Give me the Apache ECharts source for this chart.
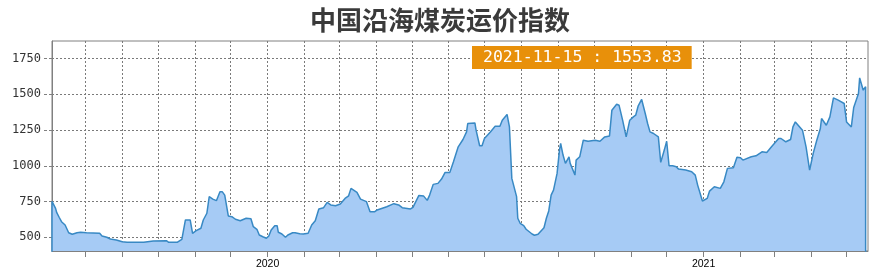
<!DOCTYPE html>
<html><head><meta charset="utf-8">
<script src="https://cdn.jsdelivr.net/npm/echarts@6/dist/echarts.min.js"></script>
<style>html,body{margin:0;padding:0;background:#fff}#c{width:880px;height:278px}</style>
</head><body><div id="c"></div>
<script>
const titleText = '中国沿海煤炭运价指数';
const latestDate = '2021-11-15';
const latestValue = '1553.83';

const dates = [
'2019-07-04','2019-07-04','2019-07-07','2019-07-08','2019-07-10','2019-07-12','2019-07-15','2019-07-18','2019-07-21','2019-07-25','2019-07-28',
'2019-08-02','2019-08-13','2019-08-15','2019-08-19','2019-08-22','2019-08-27','2019-09-01','2019-09-05','2019-09-19','2019-09-27',
'2019-10-08','2019-10-10','2019-10-17','2019-10-21','2019-10-24','2019-10-28','2019-10-30','2019-11-02','2019-11-06','2019-11-08',
'2019-11-11','2019-11-13','2019-11-16','2019-11-19','2019-11-22','2019-11-24','2019-11-26','2019-11-29','2019-12-02','2019-12-05',
'2019-12-09','2019-12-14','2019-12-18','2019-12-20','2019-12-23','2019-12-25','2019-12-28','2019-12-31','2020-01-02','2020-01-04',
'2020-01-07','2020-01-09','2020-01-10','2020-01-13','2020-01-16','2020-01-18','2020-01-22','2020-01-24','2020-01-28','2020-01-31',
'2020-02-04','2020-02-07','2020-02-10','2020-02-13','2020-02-17','2020-02-20','2020-02-23','2020-02-27','2020-03-02','2020-03-06',
'2020-03-09','2020-03-11','2020-03-16','2020-03-19','2020-03-24','2020-03-27','2020-03-31','2020-04-02','2020-04-10','2020-04-16',
'2020-04-20','2020-04-23','2020-04-30','2020-05-02','2020-05-07','2020-05-11','2020-05-14','2020-05-16','2020-05-19','2020-05-23',
'2020-05-26','2020-05-29','2020-06-02','2020-06-05','2020-06-09','2020-06-13','2020-06-16','2020-06-17','2020-06-23','2020-06-24',
'2020-06-27','2020-06-29','2020-07-01','2020-07-06','2020-07-10','2020-07-14','2020-07-16','2020-07-20','2020-07-21','2020-07-22',
'2020-07-24','2020-07-28','2020-07-29','2020-07-31','2020-08-03','2020-08-05','2020-08-10','2020-08-12','2020-08-15','2020-08-20',
'2020-08-22','2020-08-24','2020-08-26','2020-08-28','2020-08-31','2020-09-02','2020-09-03','2020-09-05','2020-09-07','2020-09-10',
'2020-09-11','2020-09-15','2020-09-16','2020-09-19','2020-09-22','2020-09-26','2020-10-02','2020-10-06','2020-10-10','2020-10-14',
'2020-10-16','2020-10-20','2020-10-22','2020-10-25','2020-10-28','2020-10-31','2020-11-03','2020-11-05','2020-11-07','2020-11-10',
'2020-11-13','2020-11-15','2020-11-17','2020-11-20','2020-11-24','2020-11-26','2020-11-29','2020-12-01','2020-12-03','2020-12-06',
'2020-12-09','2020-12-11','2020-12-17','2020-12-22','2020-12-25','2020-12-27','2020-12-31','2021-01-04','2021-01-06','2021-01-10',
'2021-01-15','2021-01-18','2021-01-21','2021-01-26','2021-01-29','2021-02-01','2021-02-03','2021-02-10','2021-02-14','2021-02-19',
'2021-02-23','2021-02-27','2021-03-05','2021-03-07','2021-03-11','2021-03-15','2021-03-17','2021-03-19','2021-03-25','2021-03-28',
'2021-03-31','2021-04-03','2021-04-06','2021-04-09','2021-04-10','2021-04-14','2021-04-17','2021-04-20','2021-04-24','2021-04-29',
'2021-05-01','2021-05-05','2021-05-07','2021-05-11','2021-05-12','2021-05-15','2021-05-17','2021-05-17'
];
const values = [
0,751,702,672,640,609,586,532,521,532,535,
532,528,509,500,488,481,469,465,465,474,
476,465,465,486,621,621,528,546,563,621,
668,784,767,756,818,818,795,649,644,626,
616,633,630,574,556,516,504,493,509,551,
581,581,535,523,500,516,532,532,525,523,
528,586,616,698,707,744,726,721,733,772,
790,842,814,767,749,679,679,691,714,735,
726,707,698,709,793,788,758,795,870,877,
907,954,954,1028,1133,1184,1237,1296,1300,1249,
1140,1140,1191,1237,1277,1277,1319,1359,1354,1272,
912,784,633,598,581,556,523,514,521,567,
633,684,795,830,947,1110,1156,1075,1017,1063,
1017,935,1040,1063,1179,1172,1179,1172,1202,1209,
1389,1431,1424,1319,1202,1319,1342,1354,1417,1464,
1366,1296,1237,1226,1202,1024,1110,1172,1000,1000,
993,977,970,958,935,865,754,772,823,853,
842,888,982,986,1059,1056,1040,1063,1070,1098,
1093,1133,1191,1191,1168,1184,1272,1307,1249,1133,
970,1087,1179,1261,1331,1284,1342,1475,1459,1436,
1307,1272,1408,1506,1615,1529,1553.83,0
];
const yTicks = [500, 750, 1000, 1250, 1500, 1750];
const monthTicks = [
'2019-08-01','2019-09-01','2019-10-01','2019-11-01','2019-12-01','2020-01-01','2020-02-01','2020-03-01',
'2020-04-01','2020-05-01','2020-06-01','2020-07-01','2020-08-01','2020-09-01','2020-10-01','2020-11-01',
'2020-12-01','2021-01-01','2021-02-01','2021-03-01','2021-04-01','2021-05-01'
];
const yearLabels = ['2020-01-01', '2021-01-01'];
const xRange = ['2019-07-04', '2021-05-19'];
const yRange = [404, 1873];

const toTs = s => { const p = s.split('-').map(Number); return Date.UTC(p[0], p[1] - 1, p[2]); };
const seriesData = dates.map((d, i) => [toTs(d), values[i]]);
const gridLine = { show: true, lineStyle: { color: '#7a7a7a', type: [2, 2], width: 1 } };

const chart = echarts.init(document.getElementById('c'), null, { renderer: 'canvas' });
chart.setOption({
  animation: false,
  title: [
    { text: titleText, left: 'center', top: 2,
      textStyle: { fontFamily: 'Noto Sans CJK SC', fontSize: 26, fontWeight: 'bold', color: '#3a3a3a' } },
    { text: latestDate + ' : ' + latestValue, left: 472, top: 46, backgroundColor: '#E8900A', padding: [3, 10, 3, 11],
      textStyle: { color: '#ffffff', fontFamily: 'DejaVu Sans Mono', fontSize: 16.5, fontWeight: 'normal', lineHeight: 17 } }
  ],
  grid: { left: 52, right: 12, top: 41, bottom: 27, show: true, borderColor: '#808080', borderWidth: 1 },
  xAxis: {
    type: 'value', min: toTs(xRange[0]), max: toTs(xRange[1]),
    axisLine: { show: true, lineStyle: { color: '#808080' } },
    axisTick: { show: true, length: 6, lineStyle: { color: '#808080' }, customValues: monthTicks.map(toTs) },
    axisLabel: { customValues: yearLabels.map(toTs), formatter: v => String(new Date(v).getUTCFullYear()),
      color: '#000', fontFamily: 'Liberation Sans', fontSize: 10.5, margin: 8 },
    splitLine: gridLine
  },
  yAxis: {
    type: 'value', min: yRange[0], max: yRange[1],
    axisLine: { show: true, lineStyle: { color: '#808080' } },
    axisTick: { show: true, length: 9, lineStyle: { color: '#808080', type: [3, 2] }, customValues: yTicks },
    axisLabel: { customValues: yTicks, formatter: v => String(v), color: '#333', fontFamily: 'DejaVu Sans Mono', fontSize: 12, margin: 11 },
    splitLine: gridLine
  },
  series: [{
    type: 'line', data: seriesData, showSymbol: false, symbol: 'none',
    lineStyle: { color: '#3889C4', width: 1.5 },
    itemStyle: { color: '#3889C4' },
    areaStyle: { color: '#A6CBF5', opacity: 1 }
  }]
});
</script>
</body></html>
